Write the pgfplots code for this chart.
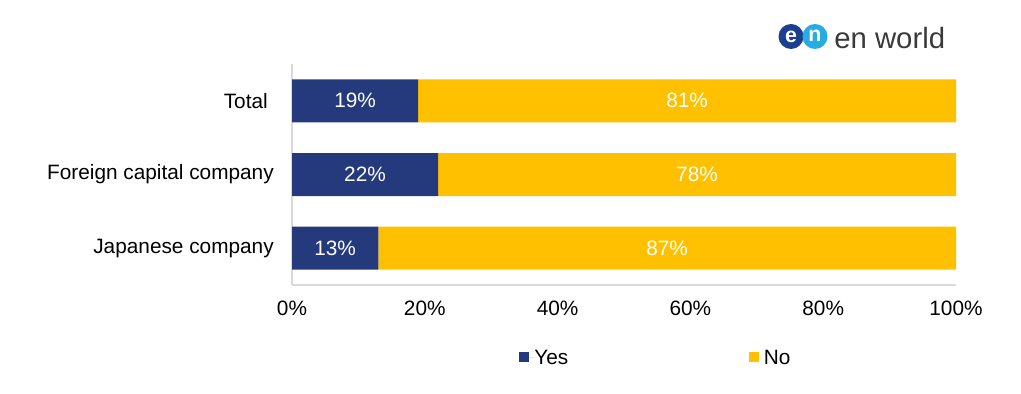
\documentclass[border=0pt]{standalone}
\usepackage{pgfplots}
\pgfplotsset{compat=1.18}
\usepackage{fontspec}
\setmainfont{Liberation Sans}
\definecolor{navy}{HTML}{253A7D}
\definecolor{gold}{HTML}{FFC000}
\definecolor{axgray}{HTML}{D9D9D9}
\definecolor{logodark}{HTML}{1B3F8F}
\definecolor{logolight}{HTML}{27ABE3}
\definecolor{logotext}{HTML}{3A3A3A}
\begin{document}
\begin{tikzpicture}[x=0.75pt,y=0.75pt]
\useasboundingbox (0,0) rectangle (1021,393);
\begin{axis}[
  at={(219pt,81pt)}, anchor=south west,
  scale only axis, width=498pt, height=165.75pt,
  xbar stacked, bar width=32.25pt,
  xmin=0, xmax=100, ymin=-0.5, ymax=2.5,
  axis x line*=bottom, axis y line*=left,
  axis line style={draw=axgray, line width=1pt},
  major tick length=0pt,
  /pgf/number format/assume math mode=true,
  xtick={0,20,40,60,80,100},
  xticklabels={0\%,20\%,40\%,60\%,80\%,100\%},
  ytick={0,1,2},
  yticklabels={Japanese company,Foreign capital company,Total\kern4.5pt},
  tick label style={font=\fontsize{15.6pt}{18pt}\selectfont, text=black},
  xticklabel style={inner sep=0pt, anchor=north, yshift=-11.5pt},
  yticklabel style={inner sep=0pt, anchor=east, xshift=-13.5pt},
  nodes near coords={\pgfmathprintnumber[assume math mode=true]{\pgfplotspointmeta}\%},
  point meta=rawx,
  every node near coord/.append style={font=\fontsize{15.6pt}{18pt}\selectfont, text=white, anchor=center},
  legend columns=2,
  legend style={draw=none, at={(0.342,-0.326)}, anchor=west, inner sep=0pt,
    font=\fontsize{15.6pt}{18pt}\selectfont,
    /tikz/every even column/.append style={column sep=135.5pt},
    nodes={inner sep=0pt, text depth=0pt}},
  legend image code/.code={\fill[#1, draw=none] (0pt,-3.75pt) rectangle (7.5pt,3.75pt); \path (0pt,0pt) -- (11.25pt,0pt);},
]
\addplot[fill=navy, draw=none] coordinates {(19,2) (22,1) (13,0)};
\addlegendentry{Yes}
\addplot[fill=gold, draw=none] coordinates {(81,2) (78,1) (87,0)};
\addlegendentry{No}
\end{axis}
% logo
\fill[logodark] (791,356.5) circle (12.5);
\fill[logolight] (815,356.5) circle (12.5);
\node[text=white, font=\fontsize{16pt}{16pt}\selectfont\bfseries, inner sep=0pt] at (791,356.5) {e};
\node[text=white, font=\fontsize{16pt}{16pt}\selectfont\bfseries, inner sep=0pt] at (815,357.5) {n};
\node[text=logotext, font=\fontsize{22pt}{22pt}\selectfont, inner sep=0pt, anchor=base west] at (834,344) {en world};
\end{tikzpicture}
\end{document}
